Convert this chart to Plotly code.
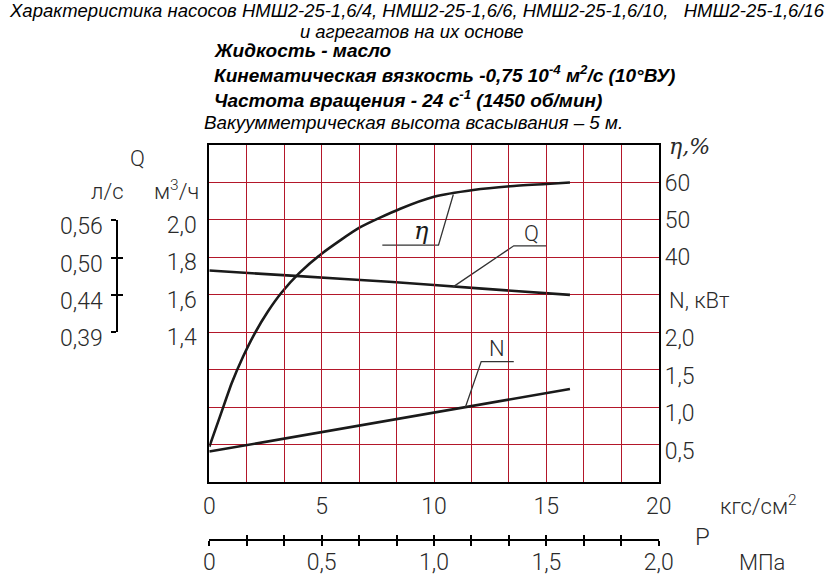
import plotly.graph_objects as go

# ---------------- data ----------------
p_eta = [0, 0.5, 1.0, 1.5, 2.0, 2.6, 3.2, 4.0, 5.0, 6.7, 8.5, 10.0, 11.75, 13.4, 15.0, 16.05]
eta = [-10.5, -2, 6.5, 13.5, 19.5, 25.5, 30.5, 35.8, 41, 48, 53, 56.2, 58, 59, 59.6, 60]

p_q = [0, 4, 8, 12, 16.05]
q = [1.73, 1.70, 1.67, 1.635, 1.60]

p_n = [0, 8.4, 16.05]
n = [0.41, 0.85, 1.245]

# leader lines for curve labels
eta_lead_p = [7.7, 10.2, 10.86]
eta_lead_v = [43.3, 43.3, 56.8]
q_lead_p = [15.0, 13.55, 10.85]
q_lead_v = [1.862, 1.862, 1.643]
n_lead_p = [13.55, 12.1, 11.4]
n_lead_v = [1.61, 1.61, 1.005]

# ticks
x_ticks = [0, 5, 10, 15, 20]
x_text = ['0', '5', '10', '15', '20']
mpa_ticks = [0, 0.5, 1.0, 1.5, 2.0]
mpa_text = ['0', '0,5', '1,0', '1,5', '2,0']
q_ticks = [1.4, 1.6, 1.8, 2.0]
q_text = ['1,4', '1,6', '1,8', '2,0']
eta_ticks = [40, 50, 60]
eta_text = ['40', '50', '60']
n_ticks = [0.5, 1.0, 1.5, 2.0]
n_text = ['0,5', '1,0', '1,5', '2,0']
ls_ticks = [0.389, 0.444, 0.500, 0.556]
ls_text = ['0,39', '0,44', '0,50', '0,56']

# ---------------- layout geometry ----------------
W, H = 831, 585
ML, MR, MT, MB = 30, 30, 10, 10
def fx(px):
    return (px - ML) / (W - ML - MR)
def fy(py):
    return (H - MB - py) / (H - MT - MB)

X0, X1 = 209.3, 658.7
Y0, Y1 = 145.0, 482.3
def qpx(v):
    return Y0 + (2.4 - v) / 1.8 * (Y1 - Y0)

RED = '#B3172A'
INK = '#1a1a1a'
FONT = 'Roboto, sans-serif'
LBL = '#2a2a2a'
tickfont = dict(family=FONT, size=23, color=LBL, weight=300)

fig = go.Figure()

# curves
fig.add_trace(go.Scatter(x=p_eta, y=eta, yaxis='y2', mode='lines',
                         line=dict(color=INK, width=2.6, shape='spline', smoothing=0.6),
                         hoverinfo='skip', showlegend=False))
fig.add_trace(go.Scatter(x=p_q, y=q, mode='lines',
                         line=dict(color=INK, width=2.6, shape='spline', smoothing=0.4),
                         hoverinfo='skip', showlegend=False))
fig.add_trace(go.Scatter(x=p_n, y=n, yaxis='y3', mode='lines',
                         line=dict(color=INK, width=2.6),
                         hoverinfo='skip', showlegend=False))
# leaders
fig.add_trace(go.Scatter(x=eta_lead_p, y=eta_lead_v, yaxis='y2', mode='lines',
                         line=dict(color='#333', width=1.3), hoverinfo='skip', showlegend=False))
fig.add_trace(go.Scatter(x=q_lead_p, y=q_lead_v, mode='lines',
                         line=dict(color='#333', width=1.3), hoverinfo='skip', showlegend=False))
fig.add_trace(go.Scatter(x=n_lead_p, y=n_lead_v, yaxis='y3', mode='lines',
                         line=dict(color='#333', width=1.3), hoverinfo='skip', showlegend=False))

# invisible traces to activate auxiliary axes
for xa, ya, xv, yv in [('x', 'y4', 0, 0.45), ('x', 'y5', 0, 0.45),
                       ('x2', 'y2', 0.5, 10), ('x3', 'y2', 0.5, 10)]:
    fig.add_trace(go.Scatter(x=[xv], y=[yv], xaxis=xa, yaxis=ya, mode='markers',
                             marker=dict(opacity=0), hoverinfo='skip', showlegend=False))

ydom = [fy(Y1), fy(Y0)]
lsdom = [fy(qpx(1.4)), fy(qpx(2.0))]
tickstyle = dict(ticklen=5, tickwidth=2, tickcolor='black')

fig.update_layout(
    width=W, height=H,
    margin=dict(l=ML, r=MR, t=MT, b=MB, autoexpand=False),
    paper_bgcolor='white', plot_bgcolor='rgba(0,0,0,0)',
    xaxis=dict(domain=[fx(X0), fx(X1)], range=[0, 20], anchor='y',
               tickmode='array', tickvals=x_ticks, ticktext=x_text,
               showgrid=True, gridcolor=RED, gridwidth=1, zeroline=False,
               minor=dict(tick0=0, dtick=5/3, showgrid=True, gridcolor=RED, gridwidth=1, ticks=''),
               showline=True, mirror=True, linecolor='black', linewidth=2,
               ticks='', tickfont=tickfont, ticklabelstandoff=2),
    yaxis=dict(domain=ydom, range=[0.6, 2.4], anchor='x',
               tickmode='array', tickvals=q_ticks, ticktext=q_text,
               showgrid=True, gridcolor=RED, gridwidth=1, zeroline=False,
               minor=dict(tick0=0.6, dtick=0.2, showgrid=True, gridcolor=RED, gridwidth=1, ticks=''),
               showline=True, mirror=True, linecolor='black', linewidth=2,
               ticks='', tickfont=tickfont, ticklabelstandoff=6, ticklabelshift=5),
    yaxis2=dict(overlaying='y', side='right', anchor='x', range=[-20, 70],
                tickmode='array', tickvals=eta_ticks, ticktext=eta_text,
                showgrid=False, zeroline=False, showline=False, ticks='',
                tickfont=tickfont, ticklabelstandoff=5),
    yaxis3=dict(overlaying='y', side='right', anchor='x', range=[0, 4.5],
                tickmode='array', tickvals=n_ticks, ticktext=n_text,
                showgrid=False, zeroline=False, showline=False, ticks='',
                tickfont=tickfont, ticklabelstandoff=5, ticklabelshift=6),
    yaxis4=dict(domain=lsdom, anchor='free', position=fx(117.3), side='left',
                range=[ls_ticks[0], ls_ticks[-1]],
                tickmode='array', tickvals=ls_ticks, ticktext=ls_text,
                showgrid=False, zeroline=False, showline=True, linecolor='black', linewidth=2,
                ticks='outside', tickfont=tickfont, ticklabelstandoff=4, ticklabelshift=6,
                **tickstyle),
    yaxis5=dict(domain=lsdom, anchor='free', position=fx(117.3), side='left',
                range=[ls_ticks[0], ls_ticks[-1]],
                tickmode='array', tickvals=ls_ticks, showticklabels=False,
                showgrid=False, zeroline=False, showline=False,
                ticks='inside', **tickstyle),
    xaxis2=dict(overlaying='x', anchor='free', position=fy(540), side='bottom',
                range=[0, 2.0], tickmode='array', tickvals=mpa_ticks, ticktext=mpa_text,
                minor=dict(tick0=0, dtick=1/6, ticks='outside', showgrid=False, **tickstyle),
                showgrid=False, zeroline=False, showline=True, linecolor='black', linewidth=2,
                ticks='outside', tickfont=tickfont, ticklabelstandoff=-4, **tickstyle),
    xaxis3=dict(overlaying='x', anchor='free', position=fy(540), side='bottom',
                range=[0, 2.0], tickmode='array', tickvals=mpa_ticks, showticklabels=False,
                minor=dict(tick0=0, dtick=1/6, ticks='inside', showgrid=False, **tickstyle),
                showgrid=False, zeroline=False, showline=False,
                ticks='inside', **tickstyle),
)

def note(text, px, py, size=23, xanchor='center', family=FONT, color=LBL, weight=300):
    fig.add_annotation(text=text, x=fx(px), y=fy(py), xref='paper', yref='paper',
                       xanchor=xanchor, yanchor='middle', showarrow=False,
                       font=dict(family=family, size=size, color=color, weight=weight))

TFONT = 'Liberation Sans, Arial, sans-serif'
note('<i>Характеристика насосов НМШ2-25-1,6/4, НМШ2-25-1,6/6, НМШ2-25-1,6/10,   НМШ2-25-1,6/16</i>',
     417, 10.5, size=18.5, family=TFONT, color='black', weight=400)
note('<i>и агрегатов на их основе</i>', 411.5, 31, size=18.4, family=TFONT, color='black', weight=400)
note('<b><i>Жидкость - масло</i></b>', 212, 50, size=19, xanchor='left', family=TFONT, color='black', weight=700)
note('<b><i>Кинематическая вязкость -0,75 10<sup>-4</sup> м<sup>2</sup>/с (10°ВУ)</i></b>',
     212, 74, size=19, xanchor='left', family=TFONT, color='black', weight=700)
note('<b><i>Частота вращения - 24 с<sup>-1</sup> (1450 об/мин)</i></b>',
     212, 99, size=19, xanchor='left', family=TFONT, color='black', weight=700)
note('<i>Вакуумметрическая высота всасывания – 5 м.</i>', 202, 123, size=18.8,
     xanchor='left', family=TFONT, color='black', weight=400)

note('Q', 137, 158, size=22)
note('л/с', 107, 191, size=22)
note('м<sup>3</sup>/ч', 176, 190, size=22)
note('<i>η,%</i>', 689, 146, size=22, family='DejaVu Serif, serif', weight=400)
note('N, кВт', 667, 300, size=22, xanchor='left')
note('кгс/см<sup>2</sup>', 758, 505, size=22)
note('P', 702, 537, size=24)
note('МПа', 762, 562, size=22)
note('<i>η</i>', 421.7, 231, size=24, family='DejaVu Serif, serif', color=INK, weight=400)
note('Q', 531.7, 233, size=22)
note('N', 496.7, 348, size=22)

fig.write_html('out.html', config={'displayModeBar': False},
               post_script="document.body.style.margin='0px';")
